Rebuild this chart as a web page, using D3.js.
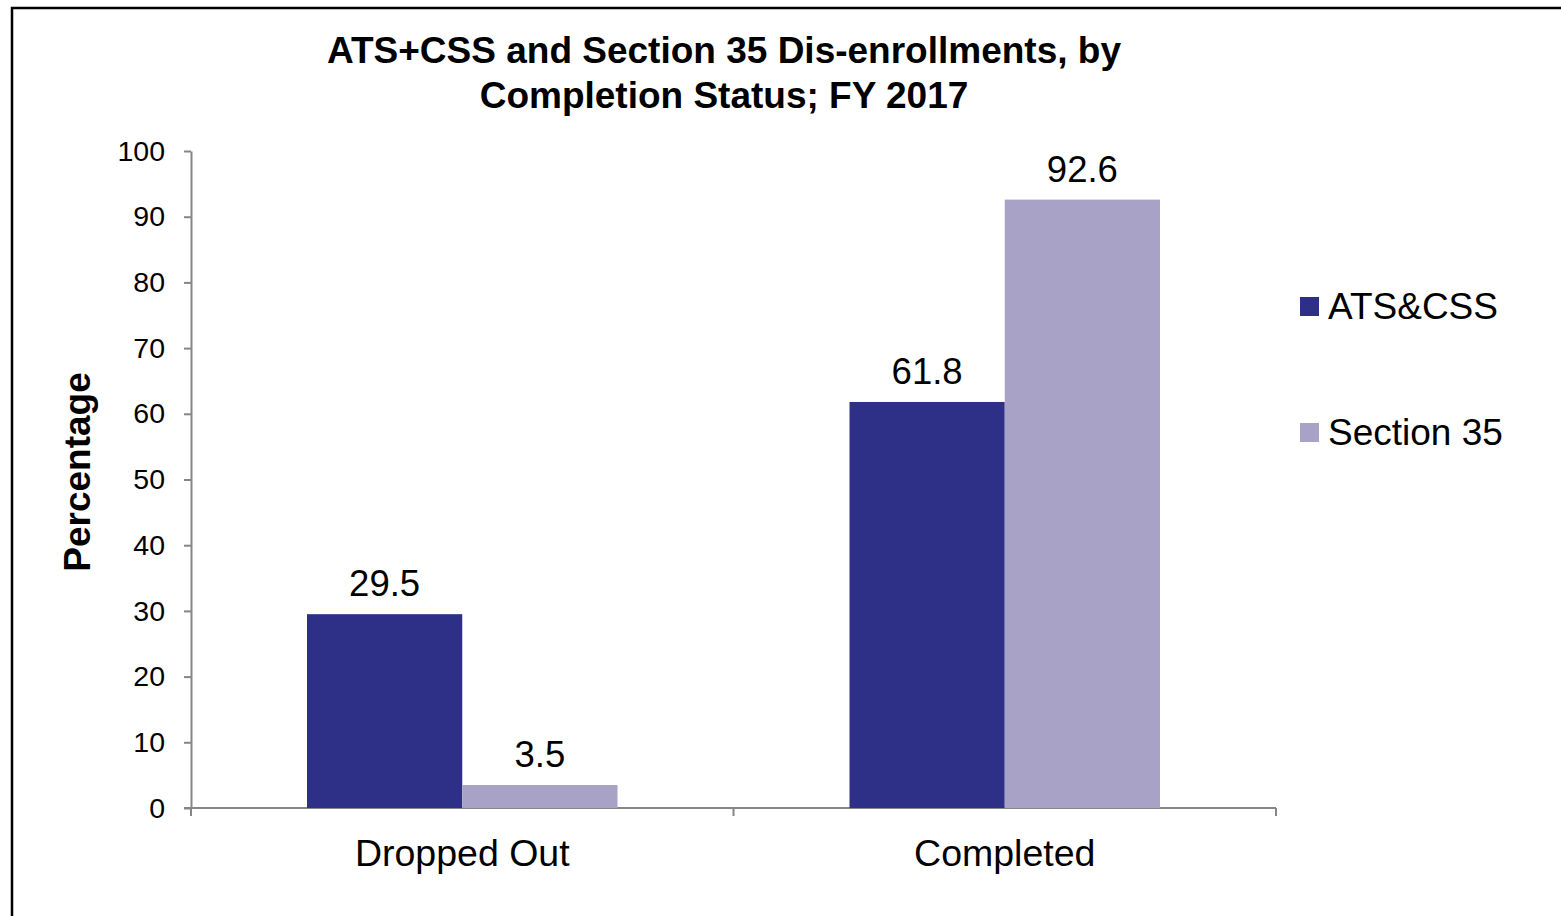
<!DOCTYPE html>
<html>
<head>
<meta charset="utf-8">
<script src="https://cdn.jsdelivr.net/npm/d3@7"></script>
<style>
  html, body { margin: 0; padding: 0; background: #fff; }
  svg { display: block; font-family: "Liberation Sans", Arial, sans-serif; }
</style>
</head>
<body>
<svg id="chart"></svg>
<script>
let svgWidth = 1561, svgHeight = 916

// data
let categories = ['Dropped Out', 'Completed']
let seriesNames = ['ATS&CSS', 'Section 35']
let atsCss = [29.5, 61.8]
let section35 = [3.5, 92.6]
let yTicks = [0, 10, 20, 30, 40, 50, 60, 70, 80, 90, 100]
let colors = ['#2e2f87', '#a8a2c6']
let titleLines = ['ATS+CSS and Section 35 Dis-enrollments, by', 'Completion Status; FY 2017']

let svg = d3.select('#chart').attr('width', svgWidth).attr('height', svgHeight)

// outer frame (right and bottom edges fall outside the picture)
svg.append('rect')
  .attr('x', 12).attr('y', 8)
  .attr('width', svgWidth).attr('height', svgHeight)
  .attr('fill', 'none').attr('stroke', '#000').attr('stroke-width', 2.5)

let plot = { left: 191, right: 1276, top: 151, bottom: 808 }

let x0 = d3.scaleBand().domain(categories).range([plot.left, plot.right])
let groupPad = x0.bandwidth() * 116 / 542.5
let x1 = d3.scaleBand().domain(seriesNames).range([groupPad, x0.bandwidth() - groupPad])
let y = d3.scaleLinear().domain([0, 100]).range([plot.bottom, plot.top])
let color = d3.scaleOrdinal().domain(seriesNames).range(colors)

// title
svg.append('g').selectAll('text').data(titleLines).enter().append('text')
  .attr('x', 724).attr('y', (d, i) => 63 + i * 45)
  .attr('text-anchor', 'middle')
  .style('font-weight', 'bold').style('font-size', '37px')
  .text(d => d)

// y axis
let yAxis = svg.append('g')
  .attr('transform', `translate(${plot.left},0)`)
  .call(d3.axisLeft(y).tickValues(yTicks).tickSize(7).tickSizeOuter(0).tickPadding(19))
yAxis.select('.domain').attr('stroke', '#868686').attr('stroke-width', 2)
yAxis.selectAll('.tick line').attr('stroke', '#868686').attr('stroke-width', 2)
yAxis.selectAll('.tick text').attr('fill', '#000').style('font-size', '28.5px')
  .style('font-family', '"Liberation Sans", Arial, sans-serif')

// x axis
let xAxis = svg.append('g')
  .attr('transform', `translate(0,${plot.bottom})`)
  .call(d3.axisBottom(x0).tickSize(0).tickSizeOuter(0).tickFormat(''))
xAxis.select('.domain').attr('stroke', '#868686').attr('stroke-width', 2)
  .attr('d', `M${plot.left - 7},0H${plot.right}`)
let boundaries = [plot.left].concat(categories.map(c => x0(c) + x0.bandwidth()))
xAxis.selectAll('.boundary').data(boundaries).enter().append('line')
  .attr('x1', d => d).attr('x2', d => d).attr('y1', 0).attr('y2', 8)
  .attr('stroke', '#868686').attr('stroke-width', 2)

// category labels
svg.append('g').selectAll('text').data(categories).enter().append('text')
  .attr('x', d => x0(d) + x0.bandwidth() / 2).attr('y', 866)
  .attr('text-anchor', 'middle').style('font-size', '37.5px')
  .text(d => d)

// bars
let rows = categories.map((c, i) => ({ cat: c, values: [atsCss[i], section35[i]] }))
let groups = svg.append('g').selectAll('g').data(rows).enter().append('g')
  .attr('transform', d => `translate(${x0(d.cat)},0)`)

let cells = groups.selectAll('g').data(d => d.values.map((v, i) => ({ name: seriesNames[i], value: v })))
  .enter().append('g')

cells.append('rect')
  .attr('x', d => x1(d.name)).attr('width', x1.bandwidth())
  .attr('y', d => y(d.value)).attr('height', d => plot.bottom - y(d.value))
  .attr('fill', d => color(d.name))

cells.append('text')
  .attr('x', d => x1(d.name) + x1.bandwidth() / 2)
  .attr('y', d => y(d.value) - 18)
  .attr('text-anchor', 'middle').style('font-size', '36.5px')
  .text(d => d3.format('.1f')(d.value))

// y axis title
svg.append('text')
  .attr('transform', 'translate(90,472) rotate(-90)')
  .attr('text-anchor', 'middle')
  .style('font-weight', 'bold').style('font-size', '37px')
  .text('Percentage')

// legend
let legend = svg.append('g').selectAll('g').data(seriesNames).enter().append('g')
  .attr('transform', (d, i) => `translate(1300,${297 + i * 126})`)
legend.append('rect').attr('width', 19).attr('height', 19).attr('fill', d => color(d))
legend.append('text').attr('x', 28).attr('y', 22).style('font-size', '37px').text(d => d)
</script>
</body>
</html>
